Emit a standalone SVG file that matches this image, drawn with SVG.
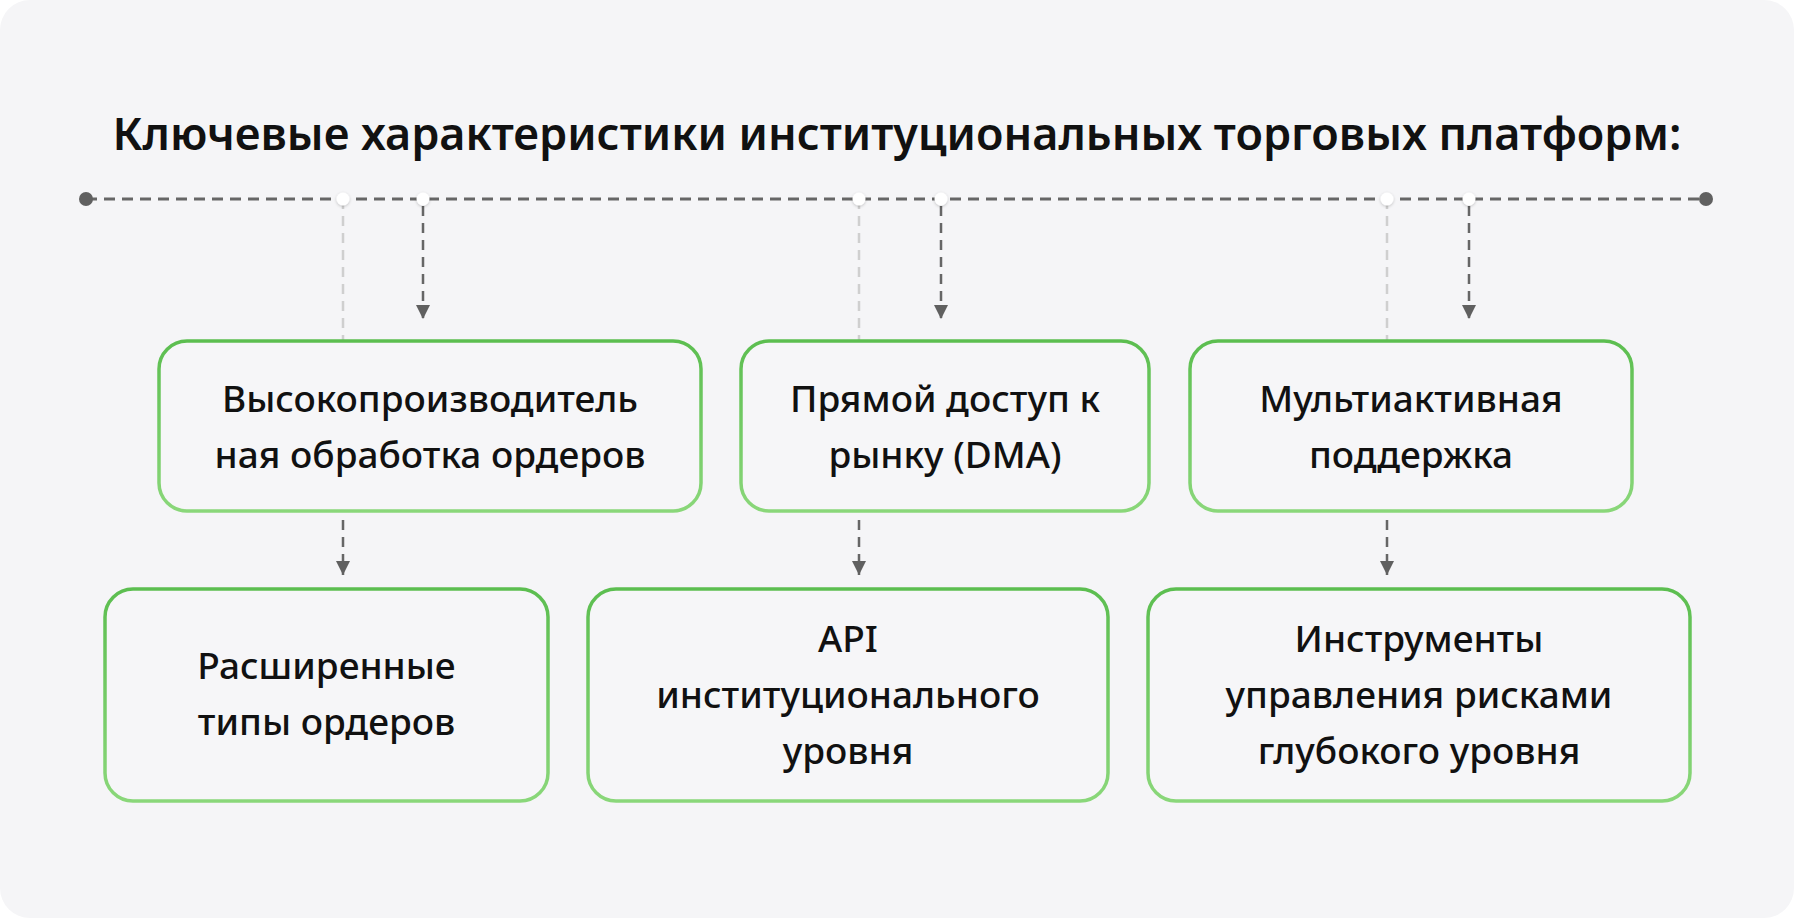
<svg xmlns="http://www.w3.org/2000/svg" width="1794" height="918" viewBox="0 0 1794 918">
<defs>
<linearGradient id="g" x1="0" y1="0" x2="0" y2="1">
<stop offset="0" stop-color="#5cbe50"/>
<stop offset="1" stop-color="#8ad77a"/>
</linearGradient>
<marker id="ah" viewBox="0 0 14 14" markerWidth="14" markerHeight="14" refX="14" refY="7" orient="auto" markerUnits="userSpaceOnUse">
<path d="M0 0 L14 7 L0 14 Z" fill="#606060"/>
</marker>
<filter id="sh" x="-80%" y="-80%" width="260%" height="260%">
<feDropShadow dx="0" dy="1" stdDeviation="1.5" flood-color="#000" flood-opacity="0.22"/>
</filter>
</defs>
<style>
.box{fill:#f6f6f8;stroke:url(#g);stroke-width:3.5}
.t{font-family:"Noto Sans","Open Sans","DejaVu Sans",sans-serif;font-size:37px;font-weight:500;fill:#111;text-anchor:middle}
.title{font-family:"Noto Sans","Open Sans","DejaVu Sans",sans-serif;font-size:45px;font-weight:600;fill:#111;text-anchor:middle}
.main{stroke:#666;stroke-width:3;stroke-dasharray:11 7;fill:none}
.light{stroke:#cfcfcf;stroke-width:2.5;stroke-dasharray:10 7;fill:none}
.dark{stroke:#666;stroke-width:2.5;stroke-dasharray:10 7;fill:none;marker-end:url(#ah)}
.jn{fill:#ffffff;filter:url(#sh)}
</style>
<rect x="0" y="0" width="1794" height="918" fill="#ffffff"/>
<rect x="0" y="0" width="1794" height="918" rx="30" fill="#f5f5f7"/>
<text class="title" x="897" y="150">Ключевые характеристики институциональных торговых платформ:</text>
<g id="connectors">
<line class="main" x1="86" y1="199" x2="1706" y2="199"/>
<circle cx="86" cy="199" r="7" fill="#606060"/>
<circle cx="1706" cy="199" r="7" fill="#606060"/>
<line class="light" x1="343" y1="199" x2="343" y2="341"/>
<line class="light" x1="859" y1="199" x2="859" y2="341"/>
<line class="light" x1="1387" y1="199" x2="1387" y2="341"/>
<line class="dark" x1="423" y1="206" x2="423" y2="319"/>
<line class="dark" x1="941" y1="206" x2="941" y2="319"/>
<line class="dark" x1="1469" y1="206" x2="1469" y2="319"/>
<line class="dark" x1="343" y1="520" x2="343" y2="575"/>
<line class="dark" x1="859" y1="520" x2="859" y2="575"/>
<line class="dark" x1="1387" y1="520" x2="1387" y2="575"/>
<circle class="jn" cx="343" cy="199" r="6.5"/>
<circle class="jn" cx="423" cy="199" r="6.5"/>
<circle class="jn" cx="859" cy="199" r="6.5"/>
<circle class="jn" cx="941" cy="199" r="6.5"/>
<circle class="jn" cx="1387" cy="199" r="6.5"/>
<circle class="jn" cx="1469" cy="199" r="6.5"/>
</g>
<g id="n1">
<rect class="box" x="159" y="341" width="542" height="170" rx="28"/>
<text class="t" x="430" y="412">Высокопроизводитель</text>
<text class="t" x="430" y="468">ная обработка ордеров</text>
</g>
<g id="n2">
<rect class="box" x="741" y="341" width="408" height="170" rx="28"/>
<text class="t" x="945" y="412">Прямой доступ к</text>
<text class="t" x="945" y="468">рынку (DMA)</text>
</g>
<g id="n3">
<rect class="box" x="1190" y="341" width="442" height="170" rx="28"/>
<text class="t" x="1411" y="412">Мультиактивная</text>
<text class="t" x="1411" y="468">поддержка</text>
</g>
<g id="n4">
<rect class="box" x="105" y="589" width="443" height="212" rx="28"/>
<text class="t" x="326.5" y="679">Расширенные</text>
<text class="t" x="326.5" y="735">типы ордеров</text>
</g>
<g id="n5">
<rect class="box" x="588" y="589" width="520" height="212" rx="28"/>
<text class="t" x="848" y="652">API</text>
<text class="t" x="848" y="708">институционального</text>
<text class="t" x="848" y="764">уровня</text>
</g>
<g id="n6">
<rect class="box" x="1148" y="589" width="542" height="212" rx="28"/>
<text class="t" x="1419" y="652">Инструменты</text>
<text class="t" x="1419" y="708">управления рисками</text>
<text class="t" x="1419" y="764">глубокого уровня</text>
</g>
</svg>
